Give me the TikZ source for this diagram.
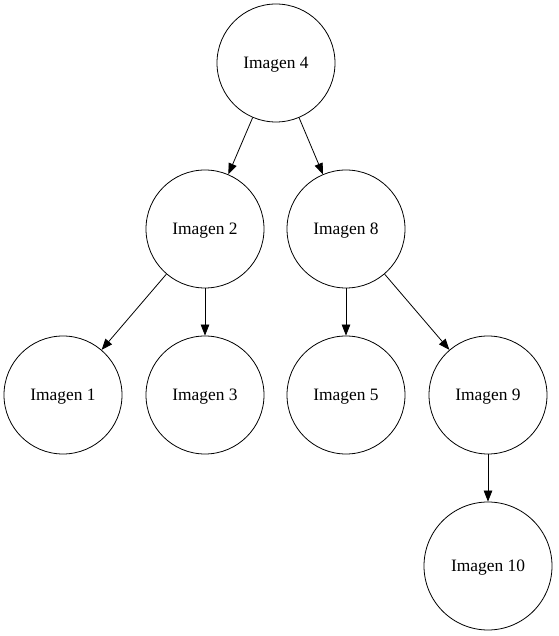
\documentclass[tikz,border=0pt]{standalone}
\usepackage{fontspec}
\setmainfont{Liberation Serif}
\usetikzlibrary{arrows.meta}
\begin{document}
\begin{tikzpicture}[x=1pt,y=1pt,
  tnode/.style={circle,draw,line width=0.8pt,minimum size=118pt,inner sep=0pt,text depth=0pt,font=\fontsize{17.4}{20}\selectfont},
  edge/.style={draw,line width=0.8pt,-{Triangle[length=11pt,width=8.5pt]}}]
\useasboundingbox (0,0) rectangle (558,636);
\node[tnode] (n4) at (276,573) {Imagen 4};
\node[tnode] (n2) at (205,407) {Imagen 2};
\node[tnode] (n8) at (346,407) {Imagen 8};
\node[tnode] (n1) at (63,241) {Imagen 1};
\node[tnode] (n3) at (205,241) {Imagen 3};
\node[tnode] (n5) at (346,241) {Imagen 5};
\node[tnode] (n9) at (488,241) {Imagen 9};
\node[tnode,minimum size=128pt] (n10) at (488,70) {Imagen 10};
\draw[edge] (n4) -- (n2);
\draw[edge] (n4) -- (n8);
\draw[edge] (n2) -- (n1);
\draw[edge] (n2) -- (n3);
\draw[edge] (n8) -- (n5);
\draw[edge] (n8) -- (n9);
\draw[edge] (n9) -- (n10);
\end{tikzpicture}
\end{document}
